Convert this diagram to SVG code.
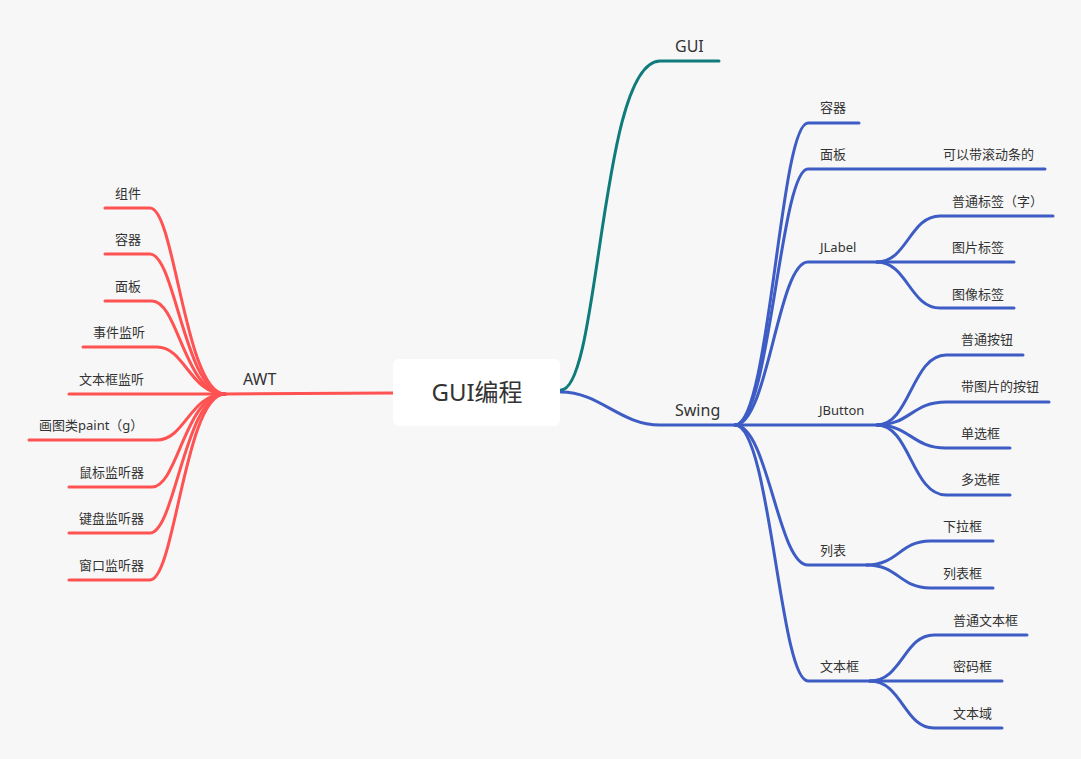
<svg xmlns="http://www.w3.org/2000/svg" width="1081" height="759" viewBox="0 0 1081 759">
<style>
text{font-family:"Noto Sans","Noto Sans CJK SC",sans-serif;fill:#333;}
.t{font-size:13px;}
.m{font-size:16px;}
.c{fill:none;stroke-width:3;stroke-linecap:round;}
.r{stroke:#FF5252;}
.b{stroke:#3D5CC4;}
.g{stroke:#0F7B7B;}
</style>
<rect width="1081" height="759" fill="#F7F7F7"/>
<g id="connectors">
<path class="c g" d="M561 390 C600 390 600 61 660 61 L719 61"/>
<path class="c b" d="M561 392 C600 392 620 425 660 425 L738 425"/>
<path class="c r" d="M393 393 L225 394"/>
<path class="c r" d="M225 394 C185 394 175 208 150 208 L105 208"/>
<path class="c r" d="M225 394 C185 394 175 254 150 254 L105 254"/>
<path class="c r" d="M225 394 C185 394 178 301 152 301 L105 301"/>
<path class="c r" d="M225 394 C190 394 185 347 157 347 L83 347"/>
<path class="c r" d="M225 394 L69 394"/>
<path class="c r" d="M225 394 C190 394 185 440 157 440 L29 440"/>
<path class="c r" d="M225 394 C185 394 178 487 152 487 L69 487"/>
<path class="c r" d="M225 394 C185 394 175 533 150 533 L69 533"/>
<path class="c r" d="M225 394 C185 394 175 580 150 580 L69 580"/>
<path class="c b" d="M735 425 C770 425 780 123 808 123 L859 123"/>
<path class="c b" d="M735 425 C770 425 780 169 808 169 L1045 169"/>
<path class="c b" d="M735 425 C768 425 778 262 808 262 L877 262"/>
<path class="c b" d="M735 425 L877 425"/>
<path class="c b" d="M735 425 C768 425 778 565 808 565 L867 565"/>
<path class="c b" d="M735 425 C770 425 780 681 808 681 L870 681"/>
<path class="c b" d="M877 262 C907 262 910 216 940 216 L1053 216"/>
<path class="c b" d="M877 262 L1014 262"/>
<path class="c b" d="M877 262 C907 262 910 308 940 308 L1014 308"/>
<path class="c b" d="M877 425 C910 425 912 355 946 355 L1023 355"/>
<path class="c b" d="M877 425 C910 425 912 402 946 402 L1049 402"/>
<path class="c b" d="M877 425 C910 425 912 448 946 448 L1010 448"/>
<path class="c b" d="M877 425 C910 425 912 495 946 495 L1010 495"/>
<path class="c b" d="M867 565 C898 565 900 541 930 541 L993 541"/>
<path class="c b" d="M867 565 C898 565 900 588 930 588 L993 588"/>
<path class="c b" d="M870 681 C902 681 904 635 934 635 L1027 635"/>
<path class="c b" d="M870 681 L1002 681"/>
<path class="c b" d="M870 681 C902 681 904 728 934 728 L1002 728"/>
</g>
<g id="root">
<rect x="393" y="359" width="167" height="67" rx="6" fill="#FFFFFF"/>
<text x="477" y="401" font-size="24" text-anchor="middle">GUI编程</text>
</g>
<g id="gui"><text class="m" x="675" y="52">GUI</text></g>
<g id="swing"><text class="m" x="675" y="416">Swing</text></g>
<g id="awt"><text class="m" x="243" y="385">AWT</text></g>
<g id="awt-zujian"><text class="t" x="115" y="198">组件</text></g>
<g id="awt-rongqi"><text class="t" x="115" y="244">容器</text></g>
<g id="awt-mianban"><text class="t" x="115" y="291">面板</text></g>
<g id="awt-shijian"><text class="t" x="93" y="337">事件监听</text></g>
<g id="awt-wenbenkuang"><text class="t" x="79" y="384">文本框监听</text></g>
<g id="awt-paint"><text class="t" x="39" y="430">画图类paint（g）</text></g>
<g id="awt-shubiao"><text class="t" x="79" y="477">鼠标监听器</text></g>
<g id="awt-jianpan"><text class="t" x="79" y="523">键盘监听器</text></g>
<g id="awt-chuangkou"><text class="t" x="79" y="570">窗口监听器</text></g>
<g id="sw-rongqi"><text class="t" x="820" y="112">容器</text></g>
<g id="sw-mianban"><text class="t" x="820" y="159">面板</text></g>
<g id="sw-gundong"><text class="t" x="943" y="159">可以带滚动条的</text></g>
<g id="sw-jlabel"><text class="t" x="820" y="252">JLabel</text></g>
<g id="sw-putongbiaoqian"><text class="t" x="952" y="206">普通标签（字）</text></g>
<g id="sw-tupianbiaoqian"><text class="t" x="952" y="252">图片标签</text></g>
<g id="sw-tuxiangbiaoqian"><text class="t" x="952" y="299">图像标签</text></g>
<g id="sw-jbutton"><text class="t" x="819" y="415">JButton</text></g>
<g id="sw-putonganniu"><text class="t" x="961" y="344">普通按钮</text></g>
<g id="sw-tupiananniu"><text class="t" x="961" y="391">带图片的按钮</text></g>
<g id="sw-danxuan"><text class="t" x="961" y="438">单选框</text></g>
<g id="sw-duoxuan"><text class="t" x="961" y="484">多选框</text></g>
<g id="sw-liebiao"><text class="t" x="820" y="555">列表</text></g>
<g id="sw-xiala"><text class="t" x="943" y="531">下拉框</text></g>
<g id="sw-liebiaokuang"><text class="t" x="943" y="578">列表框</text></g>
<g id="sw-wenbenkuang"><text class="t" x="820" y="671">文本框</text></g>
<g id="sw-putongwenben"><text class="t" x="953" y="625">普通文本框</text></g>
<g id="sw-mima"><text class="t" x="953" y="671">密码框</text></g>
<g id="sw-wenbenyu"><text class="t" x="953" y="718">文本域</text></g>
</svg>
